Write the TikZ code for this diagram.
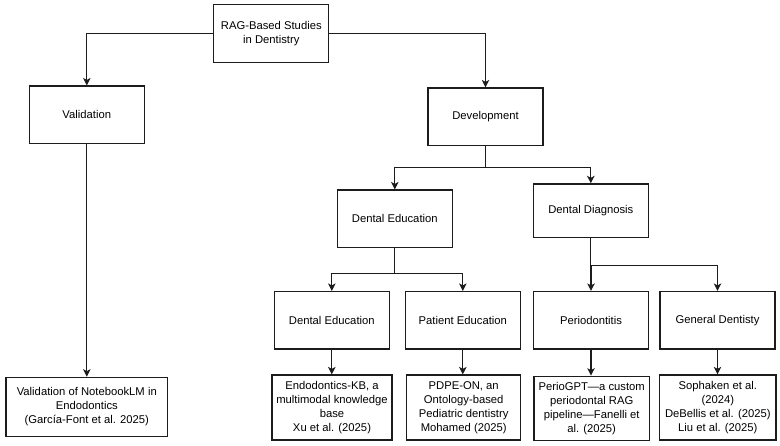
\documentclass[tikz,border=0pt]{standalone}
\usepackage{fontspec}
\setmainfont{Liberation Sans}
\usetikzlibrary{arrows.meta}
\definecolor{dntInk}{HTML}{1C1C1C}
\tikzset{
  dnt box/.style={draw=dntInk, line width=1.25bp, align=center, inner sep=2bp, minimum width=115bp, minimum height=57.5bp, font=\fontsize{11.3}{14}\selectfont, text=black},
  dnt leaf/.style={dnt box, minimum height=65bp},
  dnt arrow/.style={draw=dntInk, line width=1.1bp, -{Stealth[length=7.5bp,width=7.5bp,inset=2bp]}},
}
\begin{document}
\begin{tikzpicture}[x=1bp,y=-1bp]
\useasboundingbox (0,0) rectangle (780,446);
% levels 1-3
\node[dnt box](root)at(271.3,33.5){RAG-Based Studies\\in Dentistry};
\node[dnt box](valid)at(86.8,114.8){Validation};\node[dnt box](dev)at(485.5,116.8){Development};
\node[dnt box](eduMid)at(394.8,218.8){Dental Education};\node[dnt box,minimum height=53.7bp](diag)at(590.8,210.8){Dental Diagnosis};
\node[dnt box](edu)at(331.8,320.3){Dental Education};\node[dnt box](pat)at(462.8,320.3){Patient Education};
\node[dnt box](perio)at(591,320.3){Periodontitis};\node[dnt box](gen)at(717.5,320.3){General Dentisty};
% leaves
\node[dnt box,minimum width=161.7bp,minimum height=59bp](nb)at(86.8,406.8){Validation of NotebookLM in\\Endodontics\\(García-Font et al. 2025)};
\node[dnt leaf,minimum width=120bp](endo)at(332,407.5){Endodontics-KB, a\\multimodal knowledge\\base\\Xu et al. (2025)};
\node[dnt leaf,minimum width=114bp](pdpe)at(463.7,407.5){PDPE-ON, an\\Ontology-based\\Pediatric dentistry\\Mohamed (2025)};
\node[dnt leaf,minimum width=115.3bp,minimum height=64bp](pgpt)at(591.7,408.3){PerioGPT—a custom\\periodontal RAG\\pipeline—Fanelli et\\al. (2025)};
\node[dnt leaf,minimum width=116.3bp](soph)at(717.8,407.5){Sophaken et al.\\(2024)\\DeBellis et al. (2025)\\Liu et al. (2025)};
% connectors
\draw[dnt arrow](root.west)-|(valid.north);\draw[dnt arrow](root.east)-|(dev.north);
\draw[dnt arrow](dev.south)--++(0,21)-|(eduMid.north);\draw[dnt arrow](dev.south)--++(0,21)-|(diag.north);
\draw[dnt arrow](eduMid.south)--++(0,25.3)-|(edu.north);\draw[dnt arrow](eduMid.south)--++(0,25.3)-|(pat.north);
\draw[dnt arrow](diag.south)--++(0,27.3)-|(perio.north);\draw[dnt arrow](diag.south)--++(0,27.3)-|(gen.north);
\foreach \p/\q in {valid/nb,edu/endo,pat/pdpe,perio/pgpt,gen/soph}{\draw[dnt arrow](\p.south)--(\p.south|-\q.north);}
\end{tikzpicture}
\end{document}
